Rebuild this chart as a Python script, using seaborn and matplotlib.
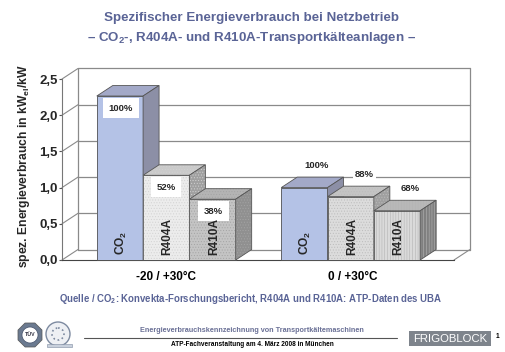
import pandas as pd
import seaborn as sns
import matplotlib.pyplot as plt
from matplotlib.patches import Polygon, Rectangle, Circle, RegularPolygon

W, H = 506, 352

groups = ["-20 / +30°C", "0 / +30°C"]
media = ["CO$_2$", "R404A", "R410A"]
values_low = [2.265, 1.17, 0.84]
values_high = [1.0, 0.875, 0.68]
percent_low = ["100%", "52%", "38%"]
percent_high = ["100%", "88%", "68%"]
yticks = [0.0, 0.5, 1.0, 1.5, 2.0, 2.5]

TITLE = "#5a6496"
front = ["#b4c2e6", "#ececec", "#c4c4c4", "#b4c2e6", "#dcdcdc", "#dadada"]
side = ["#8c8fa6", "#a0a0a0", "#909090", "#8c8fa6", "#a0a0a0", "#808080"]
top = ["#a3a9c8", "#cacaca", "#b4b4b4", "#a3a9c8", "#c4c4c4", "#b8b8b8"]
hatches = [None, "......", "......", None, "......", "||||||"]
hatch_cols = ["#b4c2e6", "#d2d2d2", "#a4a4a4", "#b4c2e6", "#bcbcbc", "#b4b4b4"]
# pixel offsets of the percent labels from the top centre of their bars
label_dx = [1, 0, 1, 12, 14, 13]
label_dy = [-12, -12, -12, 22, 22, 22]

sns.set_style("white")
plt.rcParams["font.family"] = ["Liberation Sans", "DejaVu Sans"]
plt.rcParams["mathtext.fontset"] = "custom"
plt.rcParams["mathtext.bf"] = "Liberation Sans:bold"
plt.rcParams["mathtext.rm"] = "Liberation Sans:bold"
plt.rcParams["mathtext.default"] = "bf"
plt.rcParams["hatch.linewidth"] = 0.4

df = pd.DataFrame({
    "group": [groups[0]] * 3 + [groups[1]] * 3,
    "medium": media * 2,
    "value": values_low + values_high,
})

fig = plt.figure(figsize=(W / 100, H / 100), dpi=100, facecolor="white")
ax = fig.add_axes([62 / W, (H - 260) / H, 392 / W, 181 / H])
ax.patch.set_alpha(0)

sns.barplot(data=df, x="group", y="value", hue="medium", palette=front[:3], saturation=1,
            width=0.753, gap=0, legend=False, ax=ax)

ax.set_xlim(-0.565, 1.56)
ax.set_ylim(0, 2.5)
ax.set_yticks(yticks)
ax.set_yticklabels([f"{t:.1f}".replace(".", ",") for t in yticks], fontsize=9.5, fontweight="bold")
ax.set_xticks([])
ax.set_xlabel("")
ax.set_ylabel("spez. Energieverbrauch in kW$_{el}$/kW", fontsize=8.7, fontweight="bold")
ax.yaxis.set_label_coords(-0.077, 0.52)
ax.tick_params(axis="y", left=True, length=2, width=0.8, color="#555555", pad=1)
sns.despine(ax=ax, top=True, right=True)
ax.spines["left"].set_color("#777777")
ax.spines["bottom"].set_color("#444444")

# depth of the fake 3d box, in data units
dx = 16 / 184.5
dy = 10.5 / 72.4
x0, x1 = ax.get_xlim()
wall = "#8a8a8a"
for t in yticks:
    ax.plot([x0, x0 + dx], [t, t + dy], color=wall, lw=0.8, clip_on=False, zorder=1)
    ax.plot([x0 + dx, x1 + dx], [t + dy, t + dy], color=wall, lw=0.9, clip_on=False, zorder=1)
ax.plot([x0 + dx, x0 + dx], [dy, 2.5 + dy], color=wall, lw=0.9, clip_on=False, zorder=1)
ax.plot([x1 + dx, x1 + dx], [dy, 2.5 + dy], color=wall, lw=0.9, clip_on=False, zorder=1)
ax.plot([x1, x1 + dx], [0, dy], color=wall, lw=0.8, clip_on=False, zorder=1)


def face(points, fc, hatch, hatch_col, z):
    # hatch takes the edge colour, so the outline goes on as a second patch
    ax.add_patch(Polygon(points, closed=True, fc=fc, ec=hatch_col, lw=0, hatch=hatch, clip_on=False, zorder=z))
    ax.add_patch(Polygon(points, closed=True, fc="none", ec="#555555", lw=0.6, clip_on=False, zorder=z))


bars = list(ax.containers[0]) + list(ax.containers[1]) + list(ax.containers[2])
bars.sort(key=lambda b: b.get_x())
for i, bar in enumerate(bars):
    l, w, v = bar.get_x(), bar.get_width(), bar.get_height()
    z = 3 + i
    bar.set_facecolor(front[i])
    bar.set_zorder(z)
    bar.set_linewidth(0)
    face([(l, 0), (l + w, 0), (l + w, v), (l, v)], front[i], hatches[i], hatch_cols[i], z)
    face([(l, v), (l + w, v), (l + w + dx, v + dy), (l + dx, v + dy)], top[i], hatches[i], hatch_cols[i], z)
    face([(l + w, 0), (l + w + dx, dy), (l + w + dx, v + dy), (l + w, v)], side[i], hatches[i], hatch_cols[i], z)
    pct = (percent_low + percent_high)[i]
    box = dict(fc="white", ec="none", pad=4) if i < 3 else None
    if i == 4:
        box = dict(fc="white", ec="none", pad=1.5)
    ax.annotate(pct, (l + w / 2, v), xytext=(label_dx[i] * 0.72, label_dy[i] * 0.72), textcoords="offset points",
                ha="center", va="center", fontsize=6.8, fontweight="bold", bbox=box, zorder=20)
    ax.annotate(media[i % 3], (l + w / 2, 0), xytext=(1, 3.4), textcoords="offset points",
                rotation=90, ha="center", va="bottom", fontsize=8.6, fontweight="bold", zorder=20)


def label(x, y, s, size, color="black", **kw):
    fig.text(x / W, 1 - y / H, s, fontsize=size, color=color, fontweight="bold",
             ha="center", va="center", **kw)


label(252, 18, "Spezifischer Energieverbrauch bei Netzbetrieb", 9.6, TITLE)
label(252, 38, "– CO$_2$-, R404A- und R410A-Transportkälteanlagen –", 9.6, TITLE)
label(166, 277, groups[0], 8.5)
label(353, 277, groups[1], 8.5)
label(251, 299, "Quelle / CO$_2$: Konvekta-Forschungsbericht, R404A und R410A: ATP-Daten des UBA", 6.9, TITLE)
label(252, 331, "Energieverbrauchskennzeichnung von Transportkältemaschinen", 5.2, "#6a7096")
label(252, 344, "ATP-Fachveranstaltung am 4. März 2008 in München", 4.7)
label(497, 336, "1", 4.8)

# footer: rule and logos, drawn in figure pixels
bg = fig.add_axes([0, 0, 1, 1], zorder=-1)
bg.set_xlim(0, W)
bg.set_ylim(H, 0)
bg.axis("off")
bg.plot([84, 397], [338, 338], color="#555555", lw=0.8)
bg.add_patch(RegularPolygon((30, 335), 8, radius=13, orientation=0.39, fc="#6b7a90", ec="#555555", lw=0.5))
bg.add_patch(Circle((30, 335), 8, fc="white", ec="#44506a", lw=0.5))
bg.text(30, 335, "TÜV", fontsize=3.8, fontweight="bold", color="#334", ha="center", va="center")
bg.add_patch(Circle((58, 334), 12, fc="#eef0f4", ec="#7d8aa0", lw=1))
bg.add_patch(Circle((58, 334), 6, fc="none", ec="#7d8aa0", lw=1.2, ls=":"))
bg.add_patch(Rectangle((47, 344), 25, 3, fc="#c8d0dc", ec="#7d8aa0", lw=0.4))
bg.add_patch(Rectangle((409, 331), 82, 15, fc="#7e848c", ec="none"))
bg.text(450, 338.5, "FRIGOBLOCK", fontsize=8.2, color="white", ha="center", va="center")

fig.savefig("out.png", dpi=100)
